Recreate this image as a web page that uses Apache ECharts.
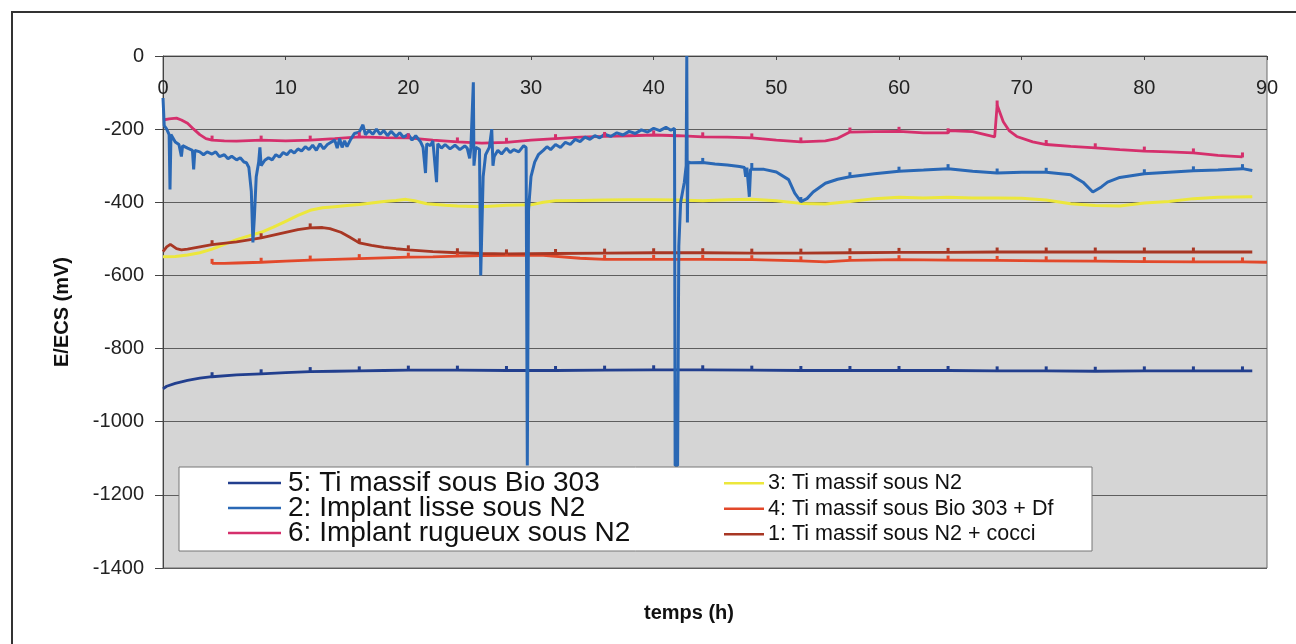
<!DOCTYPE html>
<html>
<head>
<meta charset="utf-8">
<script src="https://cdn.jsdelivr.net/npm/echarts@6/dist/echarts.min.js"></script>
<style>
  html, body { margin: 0; padding: 0; background: #fff; }
  #chart { width: 1296px; height: 644px; }
</style>
</head>
<body>
<div id="chart"></div>
<script>
// legend names, in the order of the two legend columns
var namesLeft = ['5: Ti massif sous Bio 303', '2: Implant lisse sous N2', '6: Implant rugueux sous N2'];
var namesRight = ['3: Ti massif sous N2', '4: Ti massif sous Bio 303 + Df', '1: Ti massif sous N2 + cocci'];

// [temps (h), E/ECS (mV)]
var tiBio303 = [[0,-910],[0.3,-903],[1,-895],[2,-887],[3,-881],[4,-877],[6,-872],[8,-869],[10,-866],[12,-863],[14,-862],[16,-861],[18,-860],[20,-859],[24,-859],[28,-860],[32,-860],[36,-859],[40,-858],[44,-858],[48,-859],[52,-860],[56,-860],[60,-860],[64,-860],[68,-861],[72,-861],[76,-862],[80,-861],[84,-861],[88,-861],[88.8,-861]];

var implantLisse = [[0,-115],[0.1,-190],[0.3,-200],[0.5,-215],[0.57,-365],[0.65,-215],[1,-235],[1.3,-242],[1.5,-275],[1.6,-245],[2,-252],[2.4,-258],[2.5,-310],[2.6,-258],[3,-262],[3.3,-270],[3.6,-262],[4,-268],[4.3,-262],[4.6,-275],[5,-270],[5.3,-281],[5.6,-274],[6,-284],[6.3,-278],[6.6,-290],[6.8,-292],[7,-305],[7.2,-370],[7.33,-510],[7.45,-440],[7.6,-330],[7.8,-290],[7.9,-250],[8,-300],[8.3,-285],[8.6,-278],[8.9,-284],[9.2,-270],[9.5,-276],[9.8,-264],[10.1,-270],[10.4,-258],[10.7,-265],[11,-254],[11.3,-260],[11.6,-248],[11.9,-256],[12.2,-244],[12.5,-258],[12.8,-240],[13.1,-254],[13.4,-242],[13.7,-236],[14,-230],[14.2,-252],[14.4,-226],[14.6,-250],[14.8,-232],[15,-248],[15.3,-228],[15.6,-212],[16,-208],[16.3,-188],[16.5,-215],[16.8,-204],[17.1,-214],[17.4,-200],[17.7,-214],[18,-204],[18.3,-218],[18.6,-206],[19,-220],[19.3,-210],[19.6,-222],[20,-214],[20.3,-230],[20.6,-218],[21,-235],[21.2,-250],[21.4,-320],[21.5,-240],[21.8,-245],[22,-232],[22.3,-345],[22.4,-240],[22.7,-252],[23,-242],[23.4,-254],[23.8,-244],[24.2,-256],[24.6,-246],[24.8,-252],[25,-280],[25.1,-250],[25.3,-72],[25.35,-300],[25.5,-250],[25.8,-255],[25.9,-600],[26.1,-330],[26.3,-270],[26.6,-250],[26.8,-200],[26.9,-300],[27,-275],[27.3,-258],[27.6,-268],[28,-252],[28.3,-264],[28.6,-256],[29,-262],[29.4,-245],[29.6,-250],[29.7,-1120],[29.8,-420],[30,-330],[30.3,-290],[30.6,-270],[31,-258],[31.3,-248],[31.6,-256],[32,-242],[32.4,-250],[32.8,-236],[33.2,-242],[33.6,-228],[34,-234],[34.4,-222],[34.8,-228],[35.2,-218],[35.6,-224],[36,-214],[36.5,-220],[37,-210],[37.5,-216],[38,-206],[38.5,-212],[39,-202],[39.5,-208],[40,-198],[40.5,-204],[41,-195],[41.4,-203],[41.7,-198],[41.75,-1120],[41.95,-1120],[42.05,-520],[42.2,-400],[42.5,-345],[42.65,-300],[42.7,0],[42.75,-455],[42.8,-290],[43,-292],[44,-291],[45,-295],[46,-298],[47,-302],[47.4,-305],[47.5,-330],[47.6,-305],[47.8,-385],[47.9,-310],[48,-305],[49,-310],[50,-317],[51,-338],[51.5,-375],[52,-398],[52.5,-390],[53,-372],[54,-348],[55,-337],[56,-330],[58,-322],[60,-315],[62,-312],[64,-308],[66,-315],[68,-320],[70,-318],[72,-318],[74,-325],[75,-345],[75.8,-372],[76.5,-358],[77,-345],[78,-332],[80,-322],[82,-318],[84,-314],[86,-312],[88,-308],[88.8,-313]];

var implantRugueux = [[0,-175],[0.5,-172],[1.1,-170],[1.5,-175],[2,-184],[2.5,-200],[3,-215],[3.5,-226],[4,-230],[5,-232],[6,-233],[8,-230],[10,-232],[12,-230],[14,-226],[16,-221],[18,-223],[20,-224],[22,-230],[24,-235],[26,-238],[28,-236],[30,-230],[32,-226],[34,-222],[36,-220],[38,-218],[40,-216],[42,-218],[44,-221],[46,-222],[48,-224],[50,-230],[52,-235],[54,-232],[55,-225],[56,-208],[58,-207],[60,-206],[62,-210],[64,-210],[64.1,-204],[66,-207],[67.8,-221],[68,-134],[68.5,-180],[69,-205],[69.6,-220],[70.9,-235],[72,-242],[74,-247],[76,-251],[78,-256],[80,-260],[82,-262],[84,-265],[86,-272],[88,-276]];

var tiN2 = [[0,-549],[1,-548],[2,-544],[3,-538],[4,-528],[5,-515],[6,-502],[7,-492],[8,-482],[9,-468],[10,-452],[11,-436],[12,-422],[13,-415],[14,-412],[15,-409],[16,-406],[17,-402],[18,-398],[19,-395],[19.8,-392],[20.5,-396],[21.5,-404],[23,-408],[24,-410],[26,-412],[28,-408],[30,-407],[31,-400],[32,-396],[34,-395],[36,-394],[38,-393],[40,-393],[42,-394],[44,-396],[46,-393],[48,-392],[50,-396],[52,-403],[54,-405],[56,-398],[58,-390],[60,-386],[62,-388],[64,-386],[66,-388],[68,-388],[70,-389],[72,-394],[74,-404],[76,-409],[78,-410],[80,-402],[82,-398],[84,-390],[86,-386],[88.8,-385]];

var tiBio303Df = [[4,-567],[5,-567],[6,-566],[8,-564],[10,-561],[12,-558],[14,-556],[16,-554],[18,-552],[20,-550],[22,-549],[24,-547],[26,-546],[28,-545],[31,-545],[34,-553],[36,-556],[38,-556],[40,-556],[44,-556],[48,-557],[52,-560],[54,-563],[56,-559],[60,-557],[64,-558],[68,-559],[72,-560],[76,-561],[80,-562],[84,-563],[88,-563],[90,-564]];

var tiN2Cocci = [[0,-535],[0.3,-522],[0.6,-515],[1.1,-527],[1.5,-530],[2,-528],[3,-522],[4,-516],[6,-508],[8,-497],[10,-482],[11,-475],[12,-470],[13,-469],[13.6,-472],[14.5,-482],[15.2,-495],[16,-511],[17,-518],[18,-523],[19,-527],[20,-530],[22,-535],[24,-538],[26,-540],[28,-541],[32,-540],[36,-539],[40,-538],[44,-538],[48,-539],[52,-539],[56,-538],[60,-537],[64,-537],[68,-536],[72,-536],[76,-536],[80,-536],[84,-536],[88.8,-536]];

var colors = {
  tiBio303: '#223f8e',
  implantLisse: '#2a68b5',
  implantRugueux: '#d52f6c',
  tiN2: '#ece73c',
  tiBio303Df: '#e2482a',
  tiN2Cocci: '#a83724'
};

var chart = echarts.init(document.getElementById('chart'));
var font = 'Liberation Sans, Arial, sans-serif';

// little marks every 4 h, like the excel markers
function marks(fromT) {
  return function (v) {
    return (v[0] >= fromT && v[0] % 4 === 0) ? [3, 5] : 0;
  };
}

function line(name, data, color, fromT, width) {
  return {
    name: name,
    type: 'line',
    data: data,
    color: color,
    symbol: 'rect',
    symbolSize: fromT == null ? 0 : marks(fromT),
    symbolOffset: [0, -2],
    showSymbol: fromT != null,
    showAllSymbol: true,
    lineStyle: { width: width || 2.8, color: color },
    itemStyle: { color: color, borderWidth: 0 },
    emphasis: { disabled: true },
    z: 2
  };
}

var option = {
  animation: false,
  backgroundColor: '#ffffff',
  textStyle: { fontFamily: font },
  grid: {
    left: 163, right: 29, top: 56, bottom: 76,
    show: true,
    backgroundColor: '#d5d5d5',
    borderColor: '#6a6a6a',
    borderWidth: 1
  },
  xAxis: {
    type: 'value',
    position: 'top',
    min: 0, max: 90, interval: 10,
    axisLine: { show: true, lineStyle: { color: '#444', width: 1 } },
    axisTick: { show: true, inside: true, length: 4, lineStyle: { color: '#444' } },
    axisLabel: { inside: true, margin: 22, fontSize: 20, color: '#222', fontFamily: font },
    splitLine: { show: false }
  },
  yAxis: {
    type: 'value',
    min: -1400, max: 0, interval: 200,
    name: 'E/ECS (mV)',
    nameLocation: 'middle',
    nameGap: 91,
    nameTextStyle: { fontSize: 20, fontWeight: 'bold', color: '#111', fontFamily: font },
    axisLine: { show: true, lineStyle: { color: '#444', width: 1 } },
    axisTick: { show: true, length: 8, lineStyle: { color: '#444' } },
    axisLabel: {
      margin: 19, fontSize: 20, color: '#222', fontFamily: font,
      formatter: function (v) { return String(v); }
    },
    splitLine: { show: true, lineStyle: { color: '#5e5e5e', width: 1 } }
  },
  legend: [
    {
      data: namesLeft,
      orient: 'vertical',
      left: 223, top: 464,
      itemWidth: 53, itemHeight: 2.5, itemGap: -3,
      icon: 'rect',
      z: 110,
      textStyle: { fontSize: 28, lineHeight: 24.5, color: '#111', fontFamily: font, padding: [0, 0, 0, 2] },
      selectedMode: false
    },
    {
      data: namesRight,
      orient: 'vertical',
      left: 719, top: 466,
      itemWidth: 40, itemHeight: 2.5, itemGap: 1,
      icon: 'rect',
      z: 110,
      textStyle: { fontSize: 21.5, lineHeight: 24.5, color: '#111', fontFamily: font, padding: [0, 0, 0, -1] },
      selectedMode: false
    }
  ],
  title: {
    text: 'temps (h)',
    left: 639, top: 598,
    textStyle: { fontSize: 20, fontWeight: 'bold', color: '#111', fontFamily: font }
  },
  graphic: [
    {
      type: 'rect',
      shape: { x: 12, y: 12, width: 1400, height: 800 },
      style: { fill: 'none', stroke: '#333', lineWidth: 2 },
      z: 0, silent: true
    },
    {
      type: 'rect',
      shape: { x: 179, y: 467, width: 913, height: 84 },
      style: { fill: '#ffffff', stroke: '#777', lineWidth: 1 },
      z: 100, silent: true
    }
  ],
  series: [
    line(namesRight[0], tiN2, colors.tiN2, null, 3),
    line(namesRight[1], tiBio303Df, colors.tiBio303Df, 4),
    line(namesRight[2], tiN2Cocci, colors.tiN2Cocci, 4),
    line(namesLeft[0], tiBio303, colors.tiBio303, 4),
    line(namesLeft[2], implantRugueux, colors.implantRugueux, 4),
    line(namesLeft[1], implantLisse, colors.implantLisse, 44, 3)
  ]
};

chart.setOption(option);
</script>
</body>
</html>
